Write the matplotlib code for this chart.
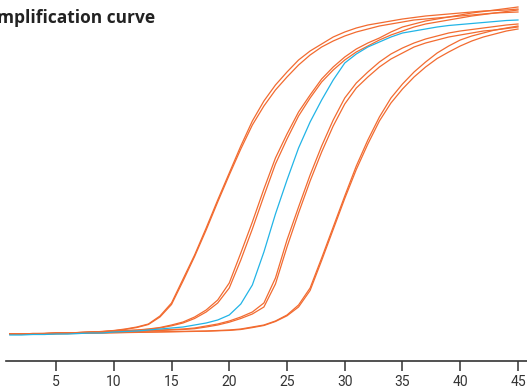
import matplotlib

matplotlib.use("Agg")
import matplotlib.pyplot as plt

cycles = list(range(1, 46))
ticks = [5, 10, 15, 20, 25, 30, 35, 40, 45]

# fluorescence (RFU), one value per cycle
sample_a1 = [270, 270, 275, 275, 280, 280, 285, 290, 295, 305, 320, 340, 370, 450, 580, 820, 1060, 1330, 1610, 1880,
             2150, 2400, 2600, 2760, 2890, 3010, 3100, 3170, 3240, 3290, 3330, 3360, 3380, 3400, 3420, 3435, 3450, 3460,
             3470, 3480, 3490, 3500, 3505, 3510, 3520]
sample_a2 = [268, 268, 272, 274, 278, 281, 284, 288, 293, 302, 316, 335, 365, 440, 565, 800, 1045, 1310, 1590, 1860,
             2120, 2360, 2550, 2710, 2840, 2960, 3060, 3140, 3200, 3250, 3290, 3320, 3350, 3370, 3390, 3410, 3420, 3430,
             3440, 3450, 3460, 3470, 3480, 3485, 3490]
sample_b1 = [270, 270, 275, 275, 280, 280, 285, 290, 295, 300, 305, 310, 320, 335, 360, 390, 440, 510, 610, 780,
             1080, 1390, 1720, 2030, 2270, 2490, 2660, 2820, 2940, 3040, 3120, 3180, 3230, 3290, 3340, 3370, 3400, 3420,
             3440, 3460, 3480, 3495, 3510, 3525, 3540]
sample_b2 = [268, 269, 273, 275, 278, 281, 284, 288, 292, 297, 302, 308, 317, 330, 352, 380, 425, 490, 580, 730,
             1010, 1320, 1650, 1970, 2220, 2450, 2630, 2790, 2910, 3010, 3090, 3150, 3210, 3260, 3300, 3340, 3370, 3390,
             3410, 3430, 3450, 3465, 3480, 3495, 3510]
sample_c1 = [270, 270, 272, 274, 276, 278, 280, 283, 286, 290, 295, 300, 305, 310, 315, 320, 330, 350, 370, 400,
             440, 490, 580, 830, 1210, 1540, 1860, 2150, 2410, 2630, 2780, 2890, 2990, 3070, 3130, 3180, 3220, 3250,
             3280, 3300, 3315, 3330, 3345, 3360, 3370]
sample_c2 = [268, 268, 270, 272, 274, 276, 278, 281, 284, 288, 292, 296, 300, 305, 310, 315, 323, 340, 360, 388,
             425, 470, 540, 770, 1140, 1480, 1800, 2090, 2350, 2570, 2730, 2840, 2940, 3020, 3080, 3140, 3180, 3210,
             3240, 3260, 3280, 3300, 3310, 3325, 3340]
sample_d1 = [270, 270, 270, 270, 275, 275, 278, 280, 282, 284, 286, 288, 290, 292, 294, 296, 298, 300, 305, 310,
             320, 340, 360, 400, 460, 560, 730, 1030, 1340, 1650, 1950, 2210, 2440, 2630, 2770, 2890, 2990, 3080,
             3150, 3210, 3250, 3280, 3310, 3330, 3350]
sample_d2 = [268, 268, 268, 270, 272, 274, 276, 278, 280, 282, 284, 286, 288, 290, 292, 294, 296, 298, 302, 306,
             315, 334, 355, 395, 452, 540, 705, 1005, 1315, 1625, 1915, 2170, 2400, 2580, 2720, 2840, 2940, 3025,
             3090, 3150, 3200, 3240, 3270, 3300, 3320]
highlight = [260, 260, 265, 265, 270, 270, 275, 280, 280, 290, 295, 300, 310, 320, 330, 340, 360, 380, 410, 460,
             570, 760, 1090, 1470, 1810, 2130, 2390, 2610, 2810, 2980, 3070, 3140, 3190, 3240, 3280, 3300, 3320, 3340,
             3355, 3365, 3375, 3385, 3395, 3405, 3410]

ORANGE = "#f26b30"
BLUE = "#22b4e6"

fig = plt.figure(figsize=(5.27, 3.90), dpi=100)
ax = fig.add_axes([6 / 527, 29 / 390, 521 / 527, 361 / 390])

for series in [sample_a1, sample_a2, sample_b1, sample_b2, sample_c1, sample_c2, sample_d1, sample_d2]:
    ax.plot(cycles, series, color=ORANGE, lw=0.9, solid_joinstyle="round")
ax.plot(cycles, highlight, color=BLUE, lw=0.9)

ax.set_xlim(0.67, 45.78)
ax.set_ylim(0, 3610)
for side in ["left", "right", "top"]:
    ax.spines[side].set_visible(False)
ax.spines["bottom"].set_color("#333333")
ax.spines["bottom"].set_linewidth(1.2)
ax.set_yticks([])
ax.set_xticks(ticks)
ax.tick_params(axis="x", length=7, width=1.1, color="#333333", pad=3, labelsize=10, labelcolor="#333333")
for lab in ax.get_xticklabels():
    lab.set_family("Roboto")

# title is clipped on the left in the source image
fig.text(155 / 527, 1 - 18 / 390, "Amplification curve", ha="right", va="center",
         fontsize=12.5, fontweight="bold", family="Open Sans", color="#222222")

fig.savefig("out.png", dpi=100)
